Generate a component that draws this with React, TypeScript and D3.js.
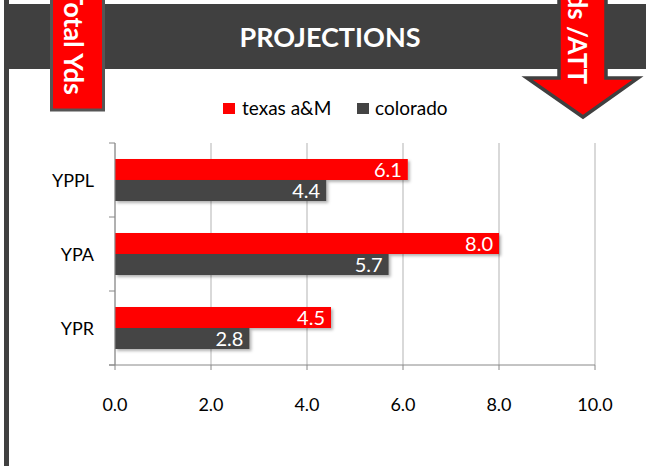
import React from "react";
import * as d3 from "d3";

// chart data
const categories = ["YPPL", "YPA", "YPR"];
const seriesNames = ["texas a&M", "colorado"];
const texasValues = [6.1, 8.0, 4.5];
const coloradoValues = [4.4, 5.7, 2.8];
const xTicks = [0, 2, 4, 6, 8, 10];

const W = 646;
const H = 466;
const FONT = "Lato, 'Open Sans', sans-serif";
const RED = "#ff0000";
const DARK = "#444444";

export default function App() {
  const x = d3.scaleLinear().domain([0, 10]).range([115, 595]);
  const y = d3.scaleBand().domain(categories).range([143, 365]).padding(0);
  const barBlock = 42;
  const sub = d3.scaleBand().domain(seriesNames).range([0, barBlock]);
  const colors = d3.scaleOrdinal<string, string>().domain(seriesNames).range([RED, DARK]);
  const seriesValues = [texasValues, coloradoValues];

  // y-axis tick positions at band edges
  const bandEdges = categories.map((c) => y(c) as number).concat([365]);

  // arrow on the right
  const arrow = [
    [559, -5], [606, -5], [606, 78], [638, 78], [583, 117], [527, 78], [559, 78],
  ];

  return (
    <svg width={W} height={H} style={{ position: "absolute", left: 0, top: 0, background: "#fff" }}>
      <defs>
        <filter id="shadow" x="-5%" y="-20%" width="115%" height="160%">
          <feDropShadow dx="2" dy="2" stdDeviation="1.5" floodColor="#000" floodOpacity="0.3" />
        </filter>
      </defs>
      <rect x={0} y={0} width={W} height={H} fill="#fff" />
      {/* left frame bar */}
      <rect x={4} y={0} width={5} height={H} fill="#404040" />
      {/* title banner */}
      <rect x={9} y={4} width={W - 9} height={65} fill="#404040" />
      <text x={330} y={47} textAnchor="middle" fill="#fff" fontFamily={FONT} fontWeight="bold" fontSize={27}>
        PROJECTIONS
      </text>

      {/* left red tag */}
      <rect x={51.5} y={-5} width={52} height={115} fill={RED} stroke="#555" strokeWidth={3} />
      <text
        transform="translate(64,95) rotate(90)"
        textAnchor="end"
        fill="#fff"
        fontFamily={FONT}
        fontWeight="bold"
        fontSize={27}
      >
        Total Yds
      </text>

      {/* right arrow */}
      <path d={d3.line()(arrow as [number, number][]) + "Z"} fill={RED} stroke="#404040" strokeWidth={3.5} strokeLinejoin="miter" />
      <text
        transform="translate(568,84) rotate(90)"
        textAnchor="end"
        fill="#fff"
        fontFamily={FONT}
        fontWeight="bold"
        fontSize={26}
      >
        Yds /ATT
      </text>

      {/* legend */}
      <g fontFamily={FONT} fontSize={19} fill="#000">
        <rect x={223} y={103} width={12} height={11} fill={RED} />
        <text x={242} y={115}>texas a&amp;M</text>
        <rect x={357} y={103} width={12} height={11} fill={DARK} />
        <text x={375} y={115}>colorado</text>
      </g>

      {/* gridlines */}
      {xTicks.map((t) => (
        <line key={"g" + t} x1={x(t)} x2={x(t)} y1={143} y2={365} stroke="#b3b3b3" strokeWidth={1} />
      ))}

      {/* bars */}
      {categories.map((c, ci) => {
        const top = (y(c) as number) + (y.bandwidth() - barBlock) / 2;
        return (
          <g key={c}>
            {seriesNames.map((s, si) => {
              const v = seriesValues[si][ci];
              const by = top + (sub(s) as number);
              return (
                <g key={s}>
                  <rect x={x(0)} y={by} width={x(v) - x(0)} height={sub.bandwidth()} fill={colors(s)} filter="url(#shadow)" />
                  <text
                    x={x(v) - 6}
                    y={by + sub.bandwidth() / 2 + 7}
                    textAnchor="end"
                    fill="#fff"
                    fontFamily={FONT}
                    fontSize={20}
                  >
                    {v.toFixed(1)}
                  </text>
                </g>
              );
            })}
          </g>
        );
      })}

      {/* axes */}
      <line x1={115} x2={115} y1={143} y2={365} stroke="#888" strokeWidth={1} />
      {bandEdges.map((e, i) => (
        <line key={"yt" + i} x1={109} x2={115} y1={e} y2={e} stroke="#888" />
      ))}
      <line x1={109} x2={595} y1={365} y2={365} stroke="#888" strokeWidth={1} />
      {xTicks.map((t) => (
        <line key={"xt" + t} x1={x(t)} x2={x(t)} y1={365} y2={370} stroke="#888" />
      ))}

      {/* category labels */}
      {categories.map((c) => (
        <text
          key={"l" + c}
          x={94}
          y={(y(c) as number) + y.bandwidth() / 2 + 7}
          textAnchor="end"
          fontFamily={FONT}
          fontSize={18}
          fill="#000"
        >
          {c}
        </text>
      ))}

      {/* x tick labels */}
      {xTicks.map((t) => (
        <text key={"xl" + t} x={x(t)} y={411} textAnchor="middle" fontFamily={FONT} fontSize={18} fill="#000">
          {t.toFixed(1)}
        </text>
      ))}
    </svg>
  );
}
